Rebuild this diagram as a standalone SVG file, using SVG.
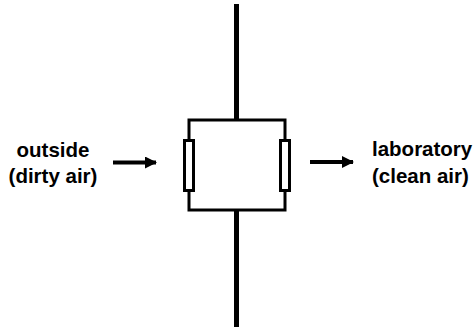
<svg xmlns="http://www.w3.org/2000/svg" width="474" height="328" viewBox="0 0 474 328">
  <style>
    .label { font-family: "Liberation Sans", Arial, sans-serif; font-weight: bold; font-size: 20.5px; fill: #000; }
    .wall { stroke: #000; stroke-width: 5; fill: none; }
    .duct { stroke: #000; stroke-width: 3; fill: none; }
    .filter { stroke: #000; stroke-width: 3; fill: #fff; }
    .flow { stroke: #000; stroke-width: 4; fill: none; }
  </style>
  <defs>
    <marker id="head" viewBox="0 0 12 12" refX="11" refY="6" markerWidth="12" markerHeight="12" markerUnits="userSpaceOnUse" orient="auto">
      <path d="M0,0 L12,6 L0,12 Z" fill="#000"/>
    </marker>
  </defs>
  <rect width="474" height="328" fill="#fff"/>

  <g id="wall">
    <line class="wall" x1="236.5" y1="4" x2="236.5" y2="120"/>
    <line class="wall" x1="236.5" y1="210" x2="236.5" y2="327"/>
  </g>

  <g id="duct">
    <rect class="duct" x="189" y="120" width="96" height="90"/>
  </g>

  <g id="filter-left">
    <rect class="filter" x="184.5" y="140.5" width="9" height="50"/>
  </g>
  <g id="filter-right">
    <rect class="filter" x="280.5" y="140.5" width="9" height="50"/>
  </g>

  <g id="outside">
    <text class="label" x="53" y="157" text-anchor="middle">outside</text>
    <text class="label" x="53" y="183" text-anchor="middle">(dirty air)</text>
  </g>

  <g id="laboratory">
    <text class="label" x="372" y="156">laboratory</text>
    <text class="label" x="372" y="183">(clean air)</text>
  </g>

  <g id="connectors">
    <line class="flow" x1="113" y1="162.5" x2="156" y2="162.5" marker-end="url(#head)"/>
    <line class="flow" x1="310" y1="162" x2="353" y2="162" marker-end="url(#head)"/>
  </g>
</svg>
